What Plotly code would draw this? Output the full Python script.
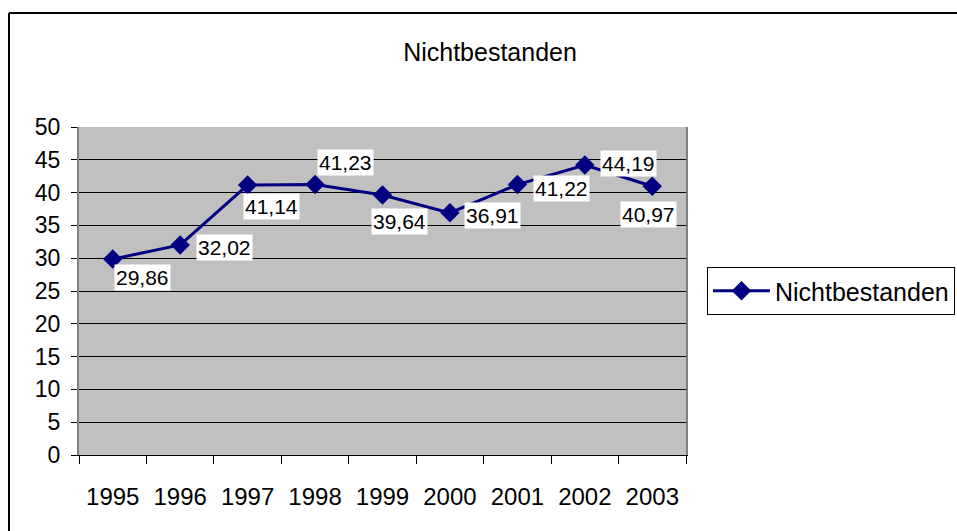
import plotly.graph_objects as go

years = ["1995", "1996", "1997", "1998", "1999", "2000", "2001", "2002", "2003"]
nichtbestanden = [29.86, 32.02, 41.14, 41.23, 39.64, 36.91, 41.22, 44.19, 40.97]
series_name = "Nichtbestanden"
y_ticks = list(range(0, 51, 5))

# label offsets in px (dx right, dy down) - layout only
label_offsets = [(30, 18), (44, 3), (24, 21), (30, -22), (17, 27),
                 (43, 3), (44, 4), (44, -2), (-4, 28)]

W, H = 1010, 531  # figure wider than window so legend box runs off the right edge
L, R, T, B = 79, 686, 127, 455
FONT = "Liberation Sans, Arial, sans-serif"
NAVY = "#000080"

fig = go.Figure()
fig.add_trace(go.Scatter(
    x=years, y=nichtbestanden, mode="lines+markers", name=series_name,
    line=dict(color=NAVY, width=3),
    marker=dict(symbol="diamond", size=15, color=NAVY),
))

for i, (v, (dx, dy)) in enumerate(zip(nichtbestanden, label_offsets)):
    fig.add_annotation(
        x=i, y=v, xref="x", yref="y",
        text=f"{v:.2f}".replace(".", ","), showarrow=False,
        xshift=dx, yshift=-dy, bgcolor="white", borderpad=1,
        font=dict(family=FONT, size=21, color="black"),
    )

pw, ph = R - L, B - T
def px_x(p):
    return (p - L) / pw
def px_y(p):
    return (B - p) / ph

# outer chart border (left and top visible)
fig.add_shape(type="line", xref="paper", yref="paper",
              x0=px_x(9), x1=px_x(9), y0=px_y(13), y1=px_y(600),
              line=dict(color="black", width=2))
fig.add_shape(type="line", xref="paper", yref="paper",
              x0=px_x(9), x1=px_x(1010), y0=px_y(13), y1=px_y(13),
              line=dict(color="black", width=2))

fig.update_layout(
    width=W, height=H,
    margin=dict(l=L, r=W - R, t=T, b=H - B, pad=0),
    paper_bgcolor="white", plot_bgcolor="#C0C0C0",
    font=dict(family=FONT, color="black"),
    title=dict(text="Nichtbestanden", x=490 / W, xref="container", xanchor="center",
               y=1 - 52 / H, yref="container", yanchor="middle",
               font=dict(family=FONT, size=25, color="black")),
    showlegend=True,
    legend=dict(x=px_x(707), xanchor="left", y=px_y(291), yanchor="middle",
                bgcolor="white", bordercolor="black", borderwidth=1,
                font=dict(family=FONT, size=25, color="black"),
                itemwidth=57, entrywidth=270, tracegroupgap=0),
    xaxis=dict(type="category", tickson="boundaries", range=[-0.5, 8.5],
               showgrid=False, showline=True, linecolor="black", linewidth=1,
               ticks="outside", ticklen=8, tickcolor="black", tickwidth=1,
               ticklabelstandoff=20, zeroline=False,
               tickfont=dict(family=FONT, size=24, color="black")),
    yaxis=dict(range=[0, 50], tickvals=y_ticks, showgrid=True, gridcolor="black",
               gridwidth=1, showline=True, linecolor="#808080", linewidth=2,
               mirror=True, ticks="outside", ticklen=6, tickcolor="black",
               ticklabelstandoff=6, zeroline=False,
               tickfont=dict(family=FONT, size=23, color="black")),
)

fig.write_html(
    "out.html",
    config={"displayModeBar": False},
    post_script="document.body.style.margin='0';document.body.style.overflow='hidden';",
)
